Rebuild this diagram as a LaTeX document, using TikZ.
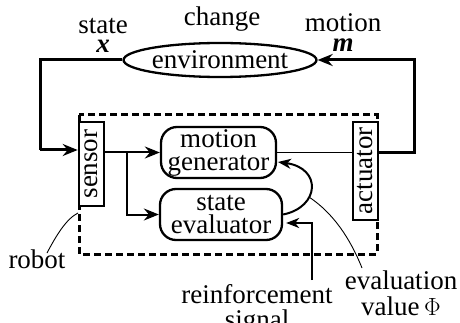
\documentclass[tikz,border=0pt]{standalone}
\usepackage{fontspec}
\setmainfont{Liberation Serif}
\usetikzlibrary{shapes.geometric,arrows.meta,calc}
\begin{document}
\begin{tikzpicture}[x=1pt,y=-1pt,
  font=\fontsize{27}{26}\selectfont,
  loopline/.style={line width=3pt},
  innerline/.style={line width=2pt},
  bigtip/.style={-{Stealth[length=15pt,width=12pt,inset=5pt]}},
  smalltip/.style={-{Stealth[length=13pt,width=10pt,inset=4pt]}},
  portbox/.style={draw, line width=2.6pt, fill=white, inner sep=0pt},
  unitbox/.style={draw, line width=2.3pt, fill=white, rounded corners=16pt,
                  align=center, inner sep=0pt},
  caption/.style={inner sep=0pt, anchor=base, align=center},
  pointer/.style={line width=0.9pt}]
\useasboundingbox (0,0) rectangle (460,323);

% robot boundary
\draw[line width=3pt, dash pattern=on 7pt off 4pt] (79,115) rectangle (377,254);

% blocks
\node[ellipse, draw, line width=2.3pt, minimum width=154pt, minimum height=34pt,
      inner sep=0pt] (env) at (220,60) {environment};
\node[portbox, minimum width=25pt, minimum height=84pt] (sensor) at (91.5,164)
      {\rotatebox{90}{sensor}};
\node[portbox, minimum width=25pt, minimum height=98pt] (act) at (365.5,171)
      {\rotatebox{90}{actuator}};
\node[unitbox, minimum width=115pt, minimum height=51pt] (mg) at (218.5,152.5)
      {motion\\[-3pt]generator};
\node[unitbox, minimum width=122pt, minimum height=51pt] (se) at (221,214.5)
      {state\\[-3pt]evaluator};

% outer feedback loop
\coordinate (lc) at (40,150);
\coordinate (rc) at (414,153);
\draw[loopline] (env.west) -| (lc);
\draw[loopline, bigtip] (lc) -- (lc -| sensor.west);
\draw[loopline, bigtip] (act.east |- rc) -- (rc) |- (env.east);

% internal signal flow
\coordinate (br) at (127,152.5);
\draw[innerline, bigtip] (sensor.east |- mg.west) -- (mg.west);
\draw[innerline, bigtip] (br) |- (se.west);
\draw[line width=1.6pt] (mg.east) -- (mg.east -| act.west);

% evaluation value feeding the motion generator
\coordinate (phi) at (278,162);
\draw[innerline, smalltip] (se.east) .. controls (320,207) and (322,168) .. (phi);

% reinforcement signal
\coordinate (rs) at (312,280);
\draw[line width=2.5pt, smalltip] (rs) |- ($(se.east)+(3,8.5)$);

% labels
\node[caption] (chg) at (222,26) {change};
\node[caption] (st) at (103,34) {state};
\node[caption] (xs) at (103,53) {\textbf{\textit{x}}};
\node[caption] (mo) at (343,32) {motion};
\node[caption] (ms) at (343,52) {\textbf{\textit{m}}};
\node[caption] (robot) at (37,268) {robot};
\node[caption] (reinf) at (257,328) {reinforcement\\[-1pt]signal};
\node[caption] (evv) at (401,315) {evaluation\\[0pt]value\,$\Phi$};

% label pointers
\coordinate (onloop) at (309,197);
\coordinate (evtail) at (362,268);
\draw[pointer] (onloop) .. controls (333,213) and (350,238) .. (evtail);
\coordinate (rbtail) at (47,253);
\coordinate (rbhead) at (78,213);
\draw[pointer] (rbtail) .. controls (56,236) and (66,219) .. (rbhead);
\end{tikzpicture}
\end{document}
